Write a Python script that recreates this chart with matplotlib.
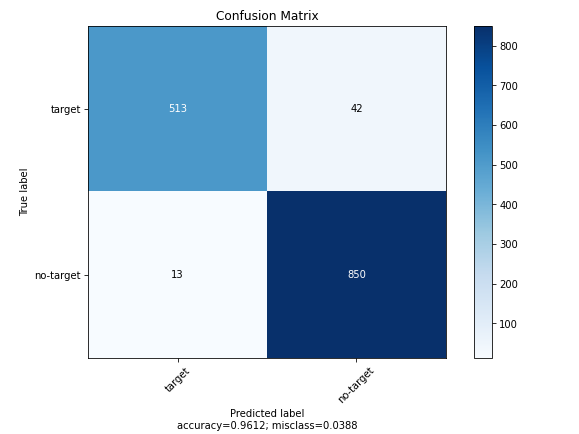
import matplotlib
matplotlib.use("Agg")
import matplotlib.pyplot as plt
import numpy as np

classes = ["target", "no-target"]
row_target = [513, 42]
row_notarget = [13, 850]
cbar_ticks = [100, 200, 300, 400, 500, 600, 700, 800]

cm = np.array([row_target, row_notarget])
accuracy = np.trace(cm) / cm.sum()
misclass = 1 - accuracy

fig = plt.figure(figsize=(8, 6), dpi=72.4)
ax = fig.add_axes([0.152, 0.175, 0.618, 0.765])
cax = fig.add_axes([0.819, 0.175, 0.031, 0.765])

im = ax.imshow(cm, interpolation="nearest", cmap=plt.get_cmap("Blues"), aspect="auto")
ax.set_title("Confusion Matrix")
cb = fig.colorbar(im, cax=cax)
cb.set_ticks(cbar_ticks)

ticks = np.arange(len(classes))
ax.set_xticks(ticks)
ax.set_xticklabels(classes, rotation=45)
ax.set_yticks(ticks)
ax.set_yticklabels(classes)

thresh = cm.max() / 2
for i in range(cm.shape[0]):
    for j in range(cm.shape[1]):
        ax.text(j, i, "{:,}".format(cm[i, j]), ha="center", va="center",
                color="white" if cm[i, j] > thresh else "black")

ax.set_ylabel("True label")
ax.set_xlabel("Predicted label\naccuracy={:0.4f}; misclass={:0.4f}".format(accuracy, misclass))

fig.savefig("out.png", dpi=72.4)
